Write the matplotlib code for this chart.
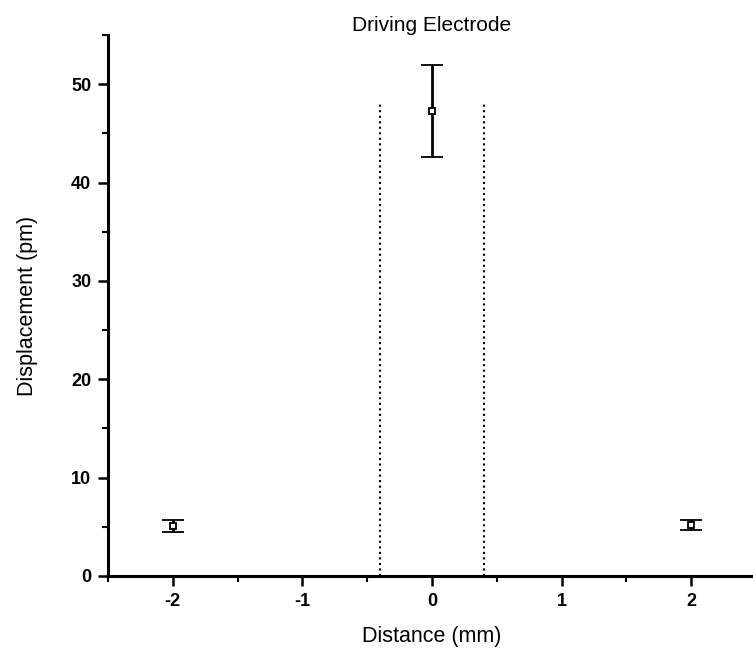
import matplotlib
matplotlib.use("Agg")
import matplotlib.pyplot as plt
from matplotlib.ticker import MultipleLocator

# Measured displacement vs. distance from the driving electrode
distance_mm = [-2.0, 0.0, 2.0]
displacement_pm = [5.1, 47.3, 5.2]
displacement_err = [0.6, 4.7, 0.5]

# Electrode edges
electrode_edges = [-0.4, 0.4]
electrode_height = 48

plt.rcParams['font.family'] = ['Liberation Sans', 'DejaVu Sans']
plt.rcParams['axes.unicode_minus'] = False

fig = plt.figure(figsize=(7.53, 6.52), dpi=100)
ax = fig.add_axes([0.1434, 0.1166, 0.8606, 0.8297])

ax.errorbar(distance_mm, displacement_pm, yerr=displacement_err, fmt='s',
            color='black', mfc='white', mec='black', ms=5, mew=1.3,
            ecolor='black', elinewidth=2.0, capsize=8, capthick=2.0)

for xe in electrode_edges:
    ax.plot([xe, xe], [0, electrode_height], color='black', ls=':', lw=1.5)

ax.set_xlim(-2.5, 2.5)
ax.set_ylim(0, 55)
ax.xaxis.set_major_locator(MultipleLocator(1))
ax.xaxis.set_minor_locator(MultipleLocator(0.5))
ax.yaxis.set_minor_locator(MultipleLocator(5))
ax.set_yticks([0, 10, 20, 30, 40, 50])

for s in ['top', 'right']:
    ax.spines[s].set_visible(False)
for s in ['left', 'bottom']:
    ax.spines[s].set_linewidth(2.2)

ax.tick_params(which='major', direction='out', length=7, width=1.8,
               labelsize=13, pad=5)
ax.tick_params(which='minor', direction='out', length=4, width=1.5)
for lbl in ax.get_xticklabels() + ax.get_yticklabels():
    lbl.set_fontweight('bold')

ax.set_xlabel('Distance (mm)', fontsize=15.5, labelpad=12)
ax.set_ylabel('Displacement (pm)', fontsize=15.5, labelpad=24)
ax.set_title('Driving Electrode', fontsize=15, pad=0)

fig.savefig('out.png', dpi=100)
